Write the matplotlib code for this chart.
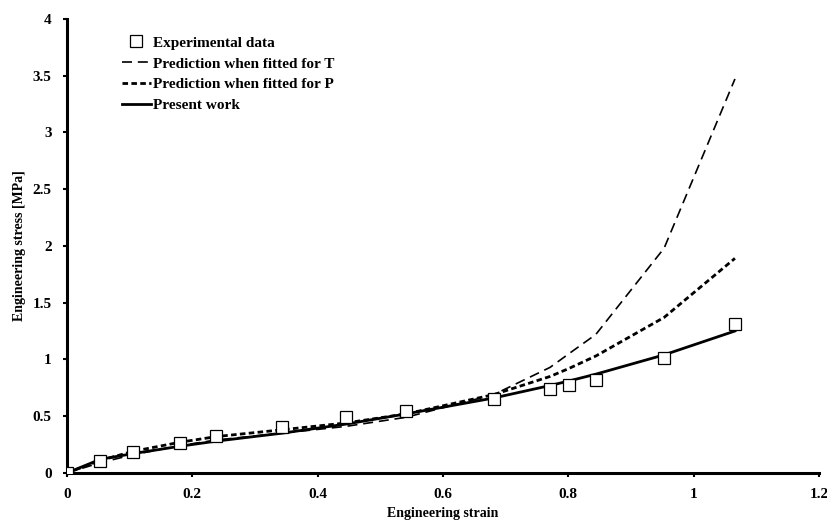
import matplotlib.pyplot as plt

# experimental data (squares)
exp_strain = [0.0, 0.053, 0.105, 0.180, 0.238, 0.343, 0.445, 0.541, 0.681, 0.771, 0.801, 0.844, 0.953, 1.066]
exp_stress = [0.0, 0.106, 0.185, 0.264, 0.326, 0.405, 0.493, 0.546, 0.652, 0.740, 0.775, 0.820, 1.013, 1.313]

# model curves
model_strain = [0.0, 0.053, 0.105, 0.180, 0.238, 0.343, 0.445, 0.541, 0.681, 0.771, 0.801, 0.844, 0.953, 1.066]
fit_t = [0.0, 0.09, 0.16, 0.24, 0.29, 0.35, 0.41, 0.49, 0.69, 0.93, 1.05, 1.22, 1.98, 3.47]
fit_p = [0.0, 0.11, 0.19, 0.27, 0.32, 0.38, 0.44, 0.52, 0.69, 0.85, 0.92, 1.03, 1.37, 1.89]
present = [0.0, 0.12, 0.17, 0.235, 0.28, 0.35, 0.43, 0.52, 0.66, 0.77, 0.81, 0.87, 1.04, 1.25]

xticks = [0, 0.2, 0.4, 0.6, 0.8, 1, 1.2]
yticks = [0, 0.5, 1, 1.5, 2, 2.5, 3, 3.5, 4]

plt.rcParams['font.family'] = ['Liberation Serif', 'DejaVu Serif']
plt.rcParams['font.weight'] = 'bold'

fig = plt.figure(figsize=(8.28, 5.22), dpi=100)
ax = fig.add_axes([0.081, 0.094, 0.908, 0.870])

ax.plot(exp_strain, exp_stress, linestyle='none', marker='s', markersize=8,
        markerfacecolor='white', markeredgecolor='black', markeredgewidth=0.9,
        label='Experimental data', zorder=4)
ax.plot(model_strain, fit_t, color='black', lw=1.2, dashes=(6, 3.5),
        label='Prediction when fitted for T')
ax.plot(model_strain, fit_p, color='black', lw=2.0, dashes=(2, 1.2),
        label='Prediction when fitted for P')
ax.plot(model_strain, present, color='black', lw=2.0, label='Present work')

ax.set_xlim(0, 1.2)
ax.set_ylim(0, 4)
ax.set_xticks(xticks)
ax.set_xticklabels(['0', '0.2', '0.4', '0.6', '0.8', '1', '1.2'])
ax.set_yticks(yticks)
ax.set_yticklabels(['0', '0.5', '1', '1.5', '2', '2.5', '3', '3.5', '4'])
ax.tick_params(labelsize=11, width=1.5, length=3, pad=8)

for s in ['top', 'right']:
    ax.spines[s].set_visible(False)
for s in ['left', 'bottom']:
    ax.spines[s].set_linewidth(2.2)

ax.set_xlabel('Engineering strain', fontsize=10, fontweight='bold', labelpad=4)
ax.set_ylabel('Engineering stress [MPa]', fontsize=10, fontweight='bold', labelpad=5)

leg = ax.legend(loc='upper left', bbox_to_anchor=(0.073, 0.962), frameon=False,
                borderpad=0, borderaxespad=0, handlelength=1.9, handletextpad=0.15,
                labelspacing=0.47, prop={'weight': 'bold', 'size': 11})

fig.savefig('out.png', dpi=100)
